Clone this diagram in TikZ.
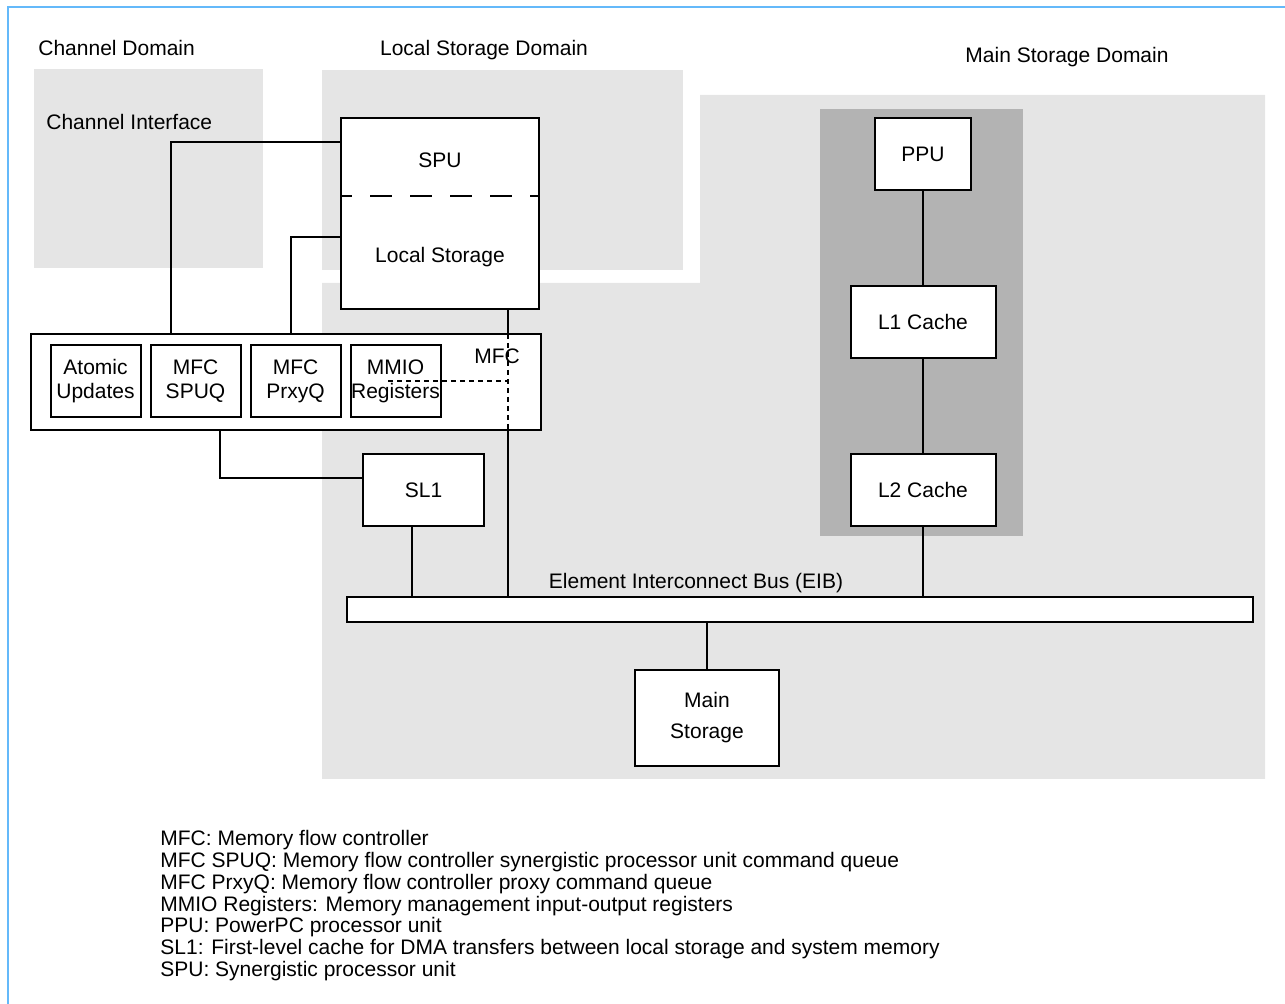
\documentclass[tikz,border=0pt]{standalone}
\usepackage{fontspec}
\setmainfont{Liberation Sans}
\usetikzlibrary{positioning}
\definecolor{domGray}{RGB}{229,229,229}
\definecolor{grpGray}{RGB}{179,179,179}
\definecolor{frameBlue}{RGB}{100,185,250}

\begin{document}
\begin{tikzpicture}[x=0.5pt, y=-0.5pt,
    every node/.style={font=\fontsize{10.5}{12}\selectfont},
    box/.style={draw, line width=1pt, fill=white, inner sep=0pt, outer sep=0pt, align=center},
    unit/.style={box, minimum width=45pt, minimum height=36pt},
    cachebox/.style={box, minimum width=72.5pt, minimum height=36pt},
    wire/.style={line width=0.7pt},
    finedash/.style={line width=0.7pt, dash pattern=on 2.5pt off 2pt},
    divider/.style={line width=1pt, dash pattern=on 11pt off 9pt, dash phase=5.5pt}]
  \useasboundingbox (0,0) rectangle (1285,1004);
  % frame
  \draw[frameBlue, line width=1pt] (7.5,1004) -- (7.5,7) -- (1285,7);
  % domains
  \fill[domGray] (34,69) rectangle (263,268);
  \fill[domGray] (322,70) rectangle (683,270);
  \fill[domGray] (700,95) -- (1265,95) -- (1265,779) -- (322,779) -- (322,283) -- (700,283) -- cycle;
  \fill[grpGray] (820,109) rectangle (1023,536);
  \node[anchor=west, inner sep=0pt] (chdom) at (38,48) {Channel Domain};
  \node[inner sep=0pt] (lsdom) at (484,50) {Local Storage Domain};
  \node[inner sep=0pt] (msdom) at (1067,57) {Main Storage Domain};
  \node[anchor=west, inner sep=0pt] (chif) at (46,122) {Channel Interface};
  % SPU with local storage
  \node[box, minimum width=99pt, minimum height=95.5pt] (spuls) at (440,213.5) {};
  \node (spu) at (440,160) {SPU};
  \node (ls) at (440,257) {Local Storage};
  \coordinate (cut) at (440,196);
  \draw[divider] (spuls.west |- cut) -- (spuls.east |- cut);
  % MFC
  \node[box, minimum width=255pt, minimum height=48pt] (mfc) at (286,382) {};
  \node (mfclabel) at (497,356) {MFC};
  \node[unit] (atomic) at (95.5,381) {Atomic\\Updates};
  \node[unit, right=5pt of atomic] (spuq) {MFC\\SPUQ};
  \node[unit, right=5pt of spuq] (prxyq) {MFC\\PrxyQ};
  \node[unit, right=5pt of prxyq] (mmio) {MMIO\\Registers};
  \node[box, minimum width=60.5pt, minimum height=36pt] (sl1) at (423.5,490) {SL1};
  % PPU side
  \node[box, minimum width=48pt, minimum height=36pt] (ppu) at (923,154) {PPU};
  \node[cachebox, below=48pt of ppu] (l1) {L1 Cache};
  \node[cachebox, below=48pt of l1] (l2) {L2 Cache};
  % bus and memory
  \node[box, minimum width=453pt, minimum height=12.5pt] (eib) at (800,609.5) {};
  \node[inner sep=0pt] (eiblabel) at (696,583) {Element Interconnect Bus (EIB)};
  \node[box, minimum width=72pt, minimum height=48pt, font=\fontsize{10.5}{15.5}\selectfont] (main) at (707,718) {Main\\Storage};
  % connectors
  \coordinate (c1) at (171,142);
  \coordinate (c2) at (291,237);
  \coordinate (c3) at (508,381);
  \coordinate (c4) at (388,381);
  \coordinate (c5) at (220,478);
  \coordinate (c6) at (412,526);
  \draw[wire] (mfc.north -| c1) -- (c1) -- (spuls.west |- c1);
  \draw[wire] (mfc.north -| c2) -- (c2) -- (spuls.west |- c2);
  \draw[wire] (spuls.south -| c3) -- (mfc.north -| c3);
  \draw[finedash] (mfc.north -| c3) -- (mfc.south -| c3);
  \draw[finedash] (c4) -- (c3);
  \draw[wire] (mfc.south -| c3) -- (eib.north -| c3);
  \draw[wire] (mfc.south -| c5) -- (c5) -- (sl1.west |- c5);
  \draw[wire] (sl1.south -| c6) -- (eib.north -| c6);
  \draw[wire] (ppu.south) -- (l1.north);
  \draw[wire] (l1.south) -- (l2.north);
  \draw[wire] (l2.south) -- (eib.north -| l2.south);
  \draw[wire] (eib.south -| main.north) -- (main.north);
  % legend
  \node[anchor=north west, inner sep=0pt, align=left, font=\fontsize{10.5}{10.9}\selectfont] (legend) at (160,830) {%
    MFC: Memory flow controller\\
    MFC SPUQ: Memory flow controller synergistic processor unit command queue\\
    MFC PrxyQ: Memory flow controller proxy command queue\\
    MMIO Registers: Memory management input-output registers\\
    PPU: PowerPC processor unit\\
    SL1: First-level cache for DMA transfers between local storage and system memory\\
    SPU: Synergistic processor unit};
\end{tikzpicture}
\end{document}
